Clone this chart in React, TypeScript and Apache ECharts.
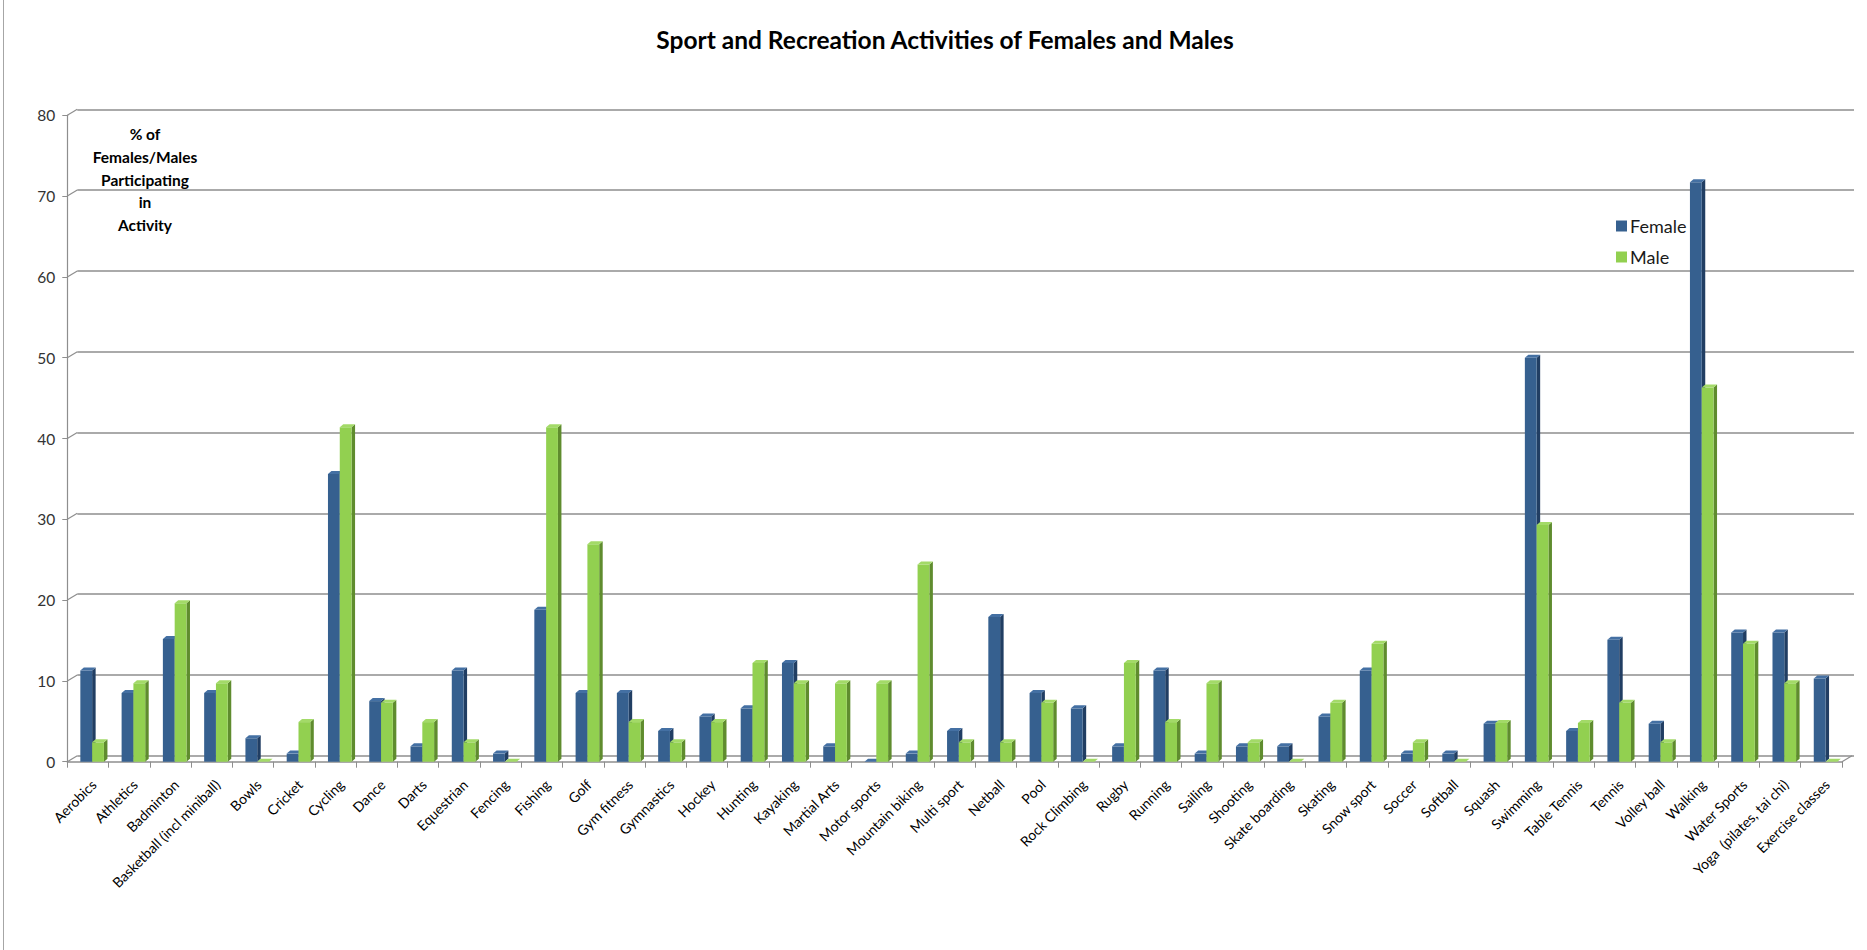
import React, { useEffect, useRef } from "react";
import * as echarts from "echarts";

// Activities along the category axis
const categories: string[] = [
  "Aerobics", "Athletics", "Badminton", "Basketball (incl miniball)", "Bowls", "Cricket",
  "Cycling", "Dance", "Darts", "Equestrian", "Fencing", "Fishing", "Golf", "Gym fitness",
  "Gymnastics", "Hockey", "Hunting", "Kayaking", "Martial Arts", "Motor sports",
  "Mountain biking", "Multi sport", "Netball", "Pool", "Rock Climbing", "Rugby", "Running",
  "Sailing", "Shooting", "Skate boarding", "Skating", "Snow sport", "Soccer", "Softball",
  "Squash", "Swimming", "Table Tennis", "Tennis", "Volley ball", "Walking", "Water Sports",
  "Yoga  (pilates, tai chi)", "Exercise classes",
];

// % of females participating in each activity
const female: number[] = [
  11.3, 8.5, 15.2, 8.5, 2.9, 1.0, 35.6, 7.5, 1.9, 11.3, 1.0, 18.8, 8.5, 8.5, 3.8, 5.6,
  6.6, 12.2, 1.9, 0, 1.0, 3.8, 17.9, 8.5, 6.6, 1.9, 11.3, 1.0, 1.9, 1.9, 5.6, 11.3,
  1.0, 1.0, 4.7, 50.0, 3.8, 15.1, 4.7, 71.7, 16.0, 16.0, 10.3,
];

// % of males participating in each activity
const male: number[] = [
  2.4, 9.7, 19.6, 9.7, 0, 4.9, 41.4, 7.3, 4.9, 2.4, 0, 41.4, 26.9, 4.9, 2.4, 4.9,
  12.2, 9.7, 9.7, 9.7, 24.4, 2.4, 2.4, 7.3, 0, 12.2, 4.9, 9.7, 2.4, 0, 7.3, 14.6,
  2.4, 0, 4.8, 29.3, 4.8, 7.3, 2.4, 46.3, 14.6, 9.7, 0,
];

// Value axis ticks
const yTicks: number[] = [0, 10, 20, 30, 40, 50, 60, 70, 80];

const FONT = 'Lato, "Open Sans", "Noto Sans", sans-serif';
const GRID_COLOR = "#8e8e8e";

// Depth of each bar (side/top faces) and of the back wall
const BAR_DX = 3.5;
const BAR_DY = 3;
const WALL_DX = 10;
const WALL_DY = -6;

type Faces = { front: string; side: string; top: string };

const femaleFaces: Faces = { front: "#36608f", side: "#213e63", top: "#4470a3" };
const maleFaces: Faces = { front: "#92d050", side: "#5f8c2e", top: "#a3da68" };

// Draws a column with a visible right side and top face
function makeBarRenderer(offset: number, width: number, faces: Faces) {
  return (_params: any, api: any) => {
    const idx = api.value(0);
    const val = api.value(1);
    const top = api.coord([idx, val]);
    const base = api.coord([idx, 0]);
    const x0 = top[0] + offset;
    const x1 = x0 + width;
    const yT = top[1];
    const yB = base[1];
    return {
      type: "group",
      children: [
        {
          type: "polygon",
          shape: { points: [[x1, yB], [x1, yT], [x1 + BAR_DX, yT - BAR_DY], [x1 + BAR_DX, yB - BAR_DY]] },
          style: { fill: faces.side },
        },
        {
          type: "rect",
          shape: { x: x0, y: yT, width, height: yB - yT },
          style: { fill: faces.front },
        },
        {
          type: "polygon",
          shape: { points: [[x0, yT], [x1, yT], [x1 + BAR_DX, yT - BAR_DY], [x0 + BAR_DX, yT - BAR_DY]] },
          style: { fill: faces.top },
        },
      ],
    };
  };
}

// Short diagonals joining the front axes to the back wall
function frameRenderer(_params: any, api: any) {
  const v = api.value(1);
  const p = api.coord([0, v]);
  const bw = api.size([1, 0])[0];
  const xL = p[0] - bw / 2;
  const children: any[] = [
    {
      type: "line",
      shape: { x1: xL, y1: p[1], x2: xL + WALL_DX, y2: p[1] + WALL_DY },
      style: { stroke: GRID_COLOR, lineWidth: 1.2 },
    },
  ];
  if (v === 0) {
    const xR = api.coord([categories.length - 1, 0])[0] + bw / 2;
    children.push({
      type: "line",
      shape: { x1: xR, y1: p[1], x2: xR + WALL_DX, y2: p[1] + WALL_DY },
      style: { stroke: GRID_COLOR, lineWidth: 1.2 },
    });
  }
  return { type: "group", children };
}

export default function App() {
  const ref = useRef<HTMLDivElement>(null);

  useEffect(() => {
    if (!ref.current) return;
    const chart = echarts.init(ref.current, null, { renderer: "svg" });

    const front = { left: 67.3, right: 25, top: 115.3, bottom: 188.3 };
    const back = {
      left: front.left + WALL_DX,
      right: front.right - WALL_DX - 2,
      top: front.top + WALL_DY,
      bottom: front.bottom - WALL_DY,
    };

    chart.setOption({
      animation: false,
      backgroundColor: "#ffffff",
      textStyle: { fontFamily: FONT },
      title: {
        text: "Sport and Recreation Activities of Females and Males",
        left: 940,
        top: 22,
        textAlign: "center",
        textStyle: { fontFamily: FONT, fontWeight: "bold", fontSize: 24.5, color: "#000" },
      },
      legend: {
        data: ["Female", "Male"],
        orient: "vertical",
        left: 1611,
        top: 212,
        icon: "rect",
        itemWidth: 11,
        itemHeight: 11,
        itemGap: 13,
        textStyle: { fontFamily: FONT, fontSize: 18, color: "#1a1a1a", padding: [0, 0, 0, -2] },
      },
      graphic: [
        {
          type: "text",
          x: 145,
          y: 123,
          style: {
            text: "% of\nFemales/Males\nParticipating\nin\nActivity",
            fontFamily: FONT,
            fontWeight: "bold",
            fontSize: 15.5,
            lineHeight: 22.6,
            fill: "#000",
            align: "center",
          },
        },
      ],
      grid: [
        { ...front },
        { ...back },
      ],
      xAxis: [
        {
          type: "category",
          gridIndex: 0,
          data: categories,
          axisLine: { show: true, lineStyle: { color: GRID_COLOR, width: 1.5 } },
          axisTick: { show: true, length: 6, lineStyle: { color: GRID_COLOR } },
          axisLabel: {
            interval: 0,
            rotate: 45,
            margin: 26,
            padding: [0, -8, 0, 0],
            fontFamily: FONT,
            fontSize: 14,
            color: "#000",
          },
        },
        {
          type: "category",
          gridIndex: 1,
          data: categories,
          show: false,
        },
      ],
      yAxis: [
        {
          type: "value",
          gridIndex: 0,
          min: 0,
          max: 80,
          interval: 10,
          axisLine: { show: true, lineStyle: { color: GRID_COLOR, width: 1.2 } },
          axisTick: { show: true, length: 5, lineStyle: { color: GRID_COLOR } },
          axisLabel: { margin: 12, fontFamily: FONT, fontSize: 15.5, color: "#333" },
          splitLine: { show: false },
        },
        {
          type: "value",
          gridIndex: 1,
          min: 0,
          max: 80,
          interval: 10,
          axisLine: { show: false },
          axisTick: { show: false },
          axisLabel: { show: false },
          splitLine: { show: true, lineStyle: { color: GRID_COLOR, width: 1.5 } },
        },
      ],
      series: [
        {
          type: "custom",
          name: "frame",
          xAxisIndex: 0,
          yAxisIndex: 0,
          silent: true,
          data: yTicks.map((v) => [0, v]),
          encode: { x: 0, y: 1 },
          renderItem: frameRenderer,
          z: 1,
        },
        {
          type: "custom",
          name: "Female",
          xAxisIndex: 0,
          yAxisIndex: 0,
          itemStyle: { color: femaleFaces.front },
          data: female.map((v, i) => [i, v]),
          encode: { x: 0, y: 1 },
          renderItem: makeBarRenderer(-7.6, 11.8, femaleFaces),
          z: 3,
        },
        {
          type: "custom",
          name: "Male",
          xAxisIndex: 0,
          yAxisIndex: 0,
          itemStyle: { color: maleFaces.front },
          data: male.map((v, i) => [i, v]),
          encode: { x: 0, y: 1 },
          renderItem: makeBarRenderer(4.2, 11.8, maleFaces),
          z: 4,
        },
      ],
    });

    return () => chart.dispose();
  }, []);

  return (
    <>
      <div
        ref={ref}
        style={{ position: "absolute", left: 0, top: 0, width: 1867, height: 950 }}
      />
      <div
        style={{
          position: "absolute",
          left: 3,
          top: 0,
          width: 0,
          height: 950,
          borderLeft: "1px solid #a6a6a6",
        }}
      />
    </>
  );
}
